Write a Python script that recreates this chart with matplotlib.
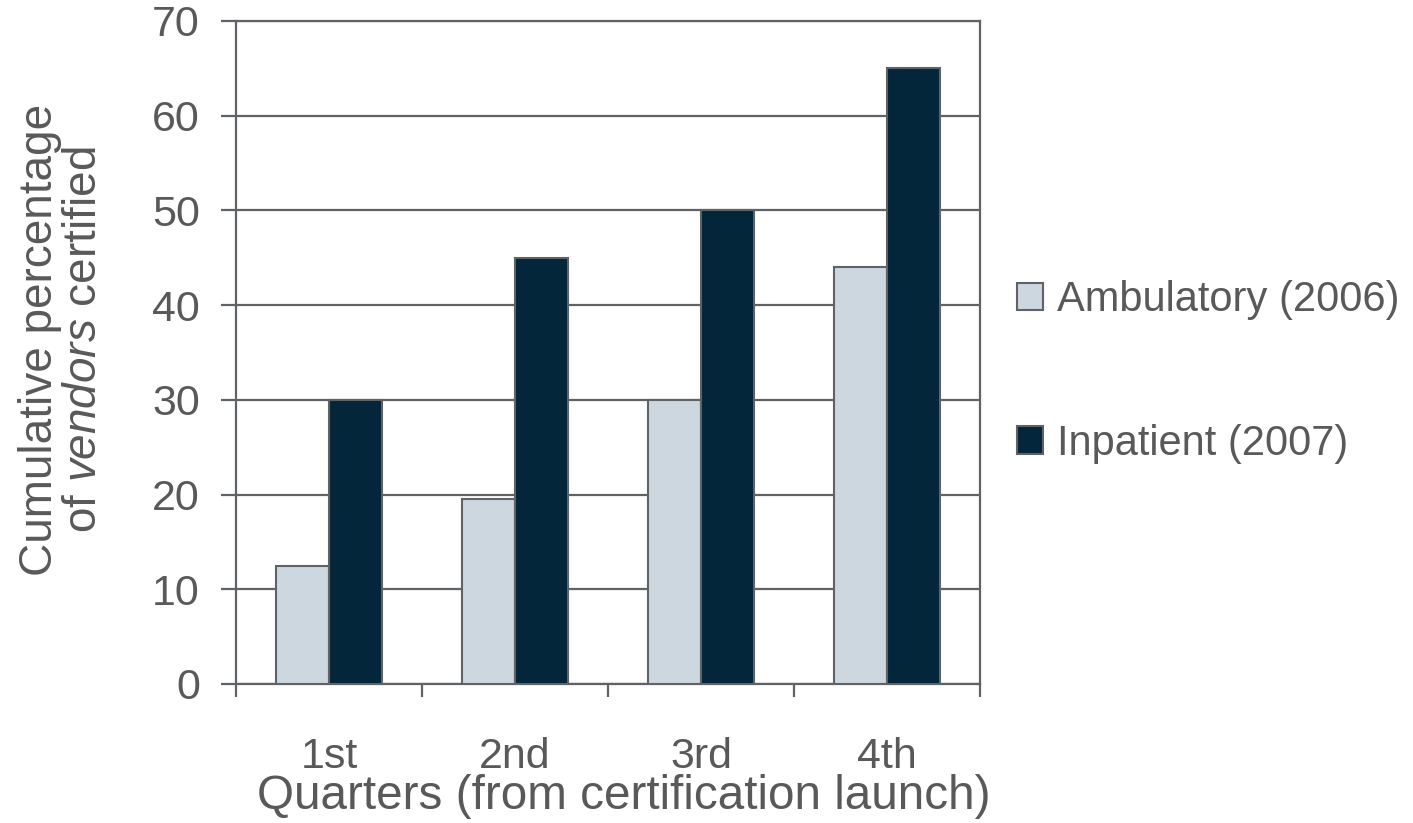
import numpy as np
import matplotlib
matplotlib.use("Agg")
import matplotlib.pyplot as plt

# cumulative share of vendors certified, by quarter after launch
quarters = ["1st", "2nd", "3rd", "4th"]
ambulatory = [12.5, 19.5, 30, 44]
inpatient = [30, 45, 50, 65]
series_names = ["Ambulatory (2006)", "Inpatient (2007)"]

TEXT = "#595959"
LINE = "#606366"
LIGHT = "#cdd7e0"
DARK = "#03263a"

plt.rcParams["font.family"] = ["Liberation Sans", "DejaVu Sans"]
plt.rcParams["mathtext.fontset"] = "custom"
plt.rcParams["mathtext.rm"] = "Liberation Sans"
plt.rcParams["mathtext.it"] = "Liberation Sans:italic"

fig = plt.figure(figsize=(14.13, 8.23), dpi=100)
ax = fig.add_axes([0.1670, 0.1689, 0.5266, 0.8056])

x = np.arange(len(quarters))
w = 0.285
b1 = ax.bar(x - w / 2, ambulatory, w, color=LIGHT, edgecolor=LINE,
            linewidth=1.5, zorder=3, label=series_names[0])
b2 = ax.bar(x + w / 2, inpatient, w, color=DARK, edgecolor=LINE,
            linewidth=1.5, zorder=3, label=series_names[1])

ax.set_xlim(-0.5, len(quarters) - 0.5)
ax.set_ylim(0, 70)
ax.set_yticks(range(0, 71, 10))
ax.yaxis.grid(True, color=LINE, linewidth=1.6, zorder=0)
ax.set_axisbelow(True)

for s in ax.spines.values():
    s.set_color(LINE)
    s.set_linewidth(1.6)

ax.tick_params(axis="y", direction="out", length=11, width=1.6, color=LINE,
               pad=15, labelsize=31, labelcolor=TEXT)
# labels sit at the centres, tick marks at the category boundaries
ax.set_xticks(x)
ax.set_xticklabels(quarters)
ax.set_xticks(np.arange(-0.5, len(quarters)), minor=True)
ax.tick_params(axis="x", which="major", length=0, pad=38, labelsize=31,
               labelcolor=TEXT)
ax.tick_params(axis="x", which="minor", direction="out", length=9.5,
               width=1.6, color=LINE)

fig.text(0.4416, 0.017, "Quarters (from certification launch)",
         ha="center", va="baseline", fontsize=34.3, color=TEXT)
fig.text(0.044, 0.587, "Cumulative percentage\nof $\\mathit{vendors}$ certified",
         rotation=90, ha="center", va="center", fontsize=33, color=TEXT,
         linespacing=1.0)

fig.legend(handles=[b1, b2], labels=series_names, loc="center left",
           bbox_to_anchor=(0.7197, 0.548), frameon=False, fontsize=30,
           labelcolor=TEXT, handlelength=0.63, handleheight=0.63,
           handletextpad=0.34, labelspacing=2.48, borderpad=0,
           borderaxespad=0)

fig.savefig("out.png", dpi=100)
